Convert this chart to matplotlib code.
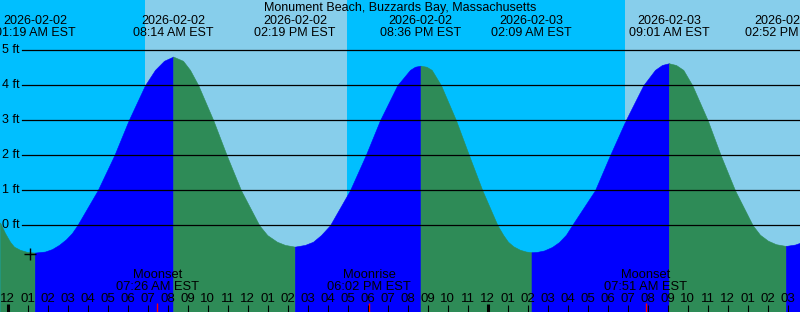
import numpy as np
import matplotlib.pyplot as plt

plt.rcParams['font.family'] = ['Liberation Sans', 'DejaVu Sans']

# hours after midnight 2026-02-02 EST, water level in feet
tide_hours = [-0.425, -0.175, 0.075, 0.275, 0.575, 0.925, 1.317,
              1.825, 2.175, 2.525, 2.875, 3.175, 3.44, 4.46, 5.29, 6.01, 6.825, 7.325, 7.775, 8.233,
              8.725, 9.075, 9.49, 10.24, 10.91, 11.625, 12.54, 12.94, 13.425, 13.825, 14.317,
              14.825, 15.225, 15.625, 16.075, 17.075, 17.86, 18.575, 19.44, 20.075, 20.325, 20.6,
              20.9, 21.16, 21.625, 22.375, 23.025, 23.69, 24.45, 24.74, 24.975, 25.24, 25.575, 25.875, 26.15,
              26.425, 26.775, 27.175, 27.525, 27.875, 28.175, 29.325, 30.075, 30.86, 31.74, 32.325, 32.675, 33.017,
              33.375, 33.74, 34.19, 34.96, 35.61, 36.325, 37.21, 37.575, 37.975, 38.375, 38.867,
              39.325, 39.575]
tide_feet = [0.08, -0.22, -0.47, -0.61, -0.70, -0.76, -0.78,
             -0.75, -0.68, -0.56, -0.40, -0.22, 0.0, 1.0, 2.0, 3.0, 4.0, 4.44, 4.7, 4.82,
             4.7, 4.44, 4.0, 3.0, 2.0, 1.0, 0.0, -0.28, -0.47, -0.56, -0.61,
             -0.56, -0.47, -0.28, 0.0, 1.0, 2.0, 3.0, 4.0, 4.44, 4.53, 4.56,
             4.53, 4.44, 4.0, 3.0, 2.0, 1.0, 0.0, -0.28, -0.47, -0.60, -0.70, -0.75, -0.77,
             -0.76, -0.72, -0.62, -0.48, -0.27, 0.0, 1.0, 2.0, 3.0, 4.0, 4.44, 4.58, 4.63,
             4.58, 4.44, 4.0, 3.0, 2.0, 1.0, 0.0, -0.27, -0.44, -0.54, -0.59,
             -0.55, -0.50]

# high / low tide events
hilo_hours = [1.317, 8.233, 14.317, 20.6, 26.15, 33.017, 38.867]
hilo_dates = ['2026-02-02', '2026-02-02', '2026-02-02', '2026-02-02',
              '2026-02-03', '2026-02-03', '2026-02-03']
hilo_times = ['01:19 AM EST', '08:14 AM EST', '02:19 PM EST', '08:36 PM EST',
              '02:09 AM EST', '09:01 AM EST', '02:52 PM EST']

# moon events
moon_hours = [7.433, 18.033, 31.85]
moon_names = ['Moonset', 'Moonrise', 'Moonset']
moon_times = ['07:26 AM EST', '06:02 PM EST', '07:51 AM EST']

# daylight
sunrise_hours = [6.825, 30.825]
sunset_hours = [16.91, 40.9]

mark_hour = 1.075
mark_feet = -0.82

level_lines = [0, 1, 2, 3, 4, 5]
hour_ticks = list(range(0, 40))

title = 'Monument Beach, Buzzards Bay, Massachusetts'

night_color = '#00BFFF'
day_color = '#87CEEB'
rise_color = '#0000FF'
fall_color = '#2E8B57'

W, H = 800, 312
fig = plt.figure(figsize=(W / 100, H / 100), dpi=100, facecolor=night_color)
ax = fig.add_axes([0, 0, 1, 1])
ax.set_xlim(-0.425, 39.575)
ax.set_ylim(-2.477, 6.437)
ax.axis('off')


def yfrac(p):
    # pixel row from top -> axes fraction
    return 1 - p / H


xt = ax.get_xaxis_transform()
yt = ax.get_yaxis_transform()

for a, b in zip(sunrise_hours, sunset_hours):
    ax.axvspan(a, b, color=day_color, lw=0, zorder=0)

# tide fill, blue while rising, green while falling
t = np.array(tide_hours)
f = np.array(tide_feet)
rising = np.diff(f) > 0
start = 0
for i in range(1, len(rising) + 1):
    if i == len(rising) or rising[i] != rising[start]:
        seg = slice(start, i + 1)
        c = rise_color if rising[start] else fall_color
        ax.fill_between(t[seg], f[seg], -3, color=c, lw=0.4, edgecolor=c, zorder=1)
        start = i

# level lines and labels
for lv in level_lines:
    ax.axhline(lv, xmin=22 / W, xmax=1, color='black', lw=0.9, zorder=3)
    ax.text(2 / W, lv, f'{lv} ft', transform=yt, ha='left', va='center',
            fontsize=9, zorder=4)

ax.plot([mark_hour], [mark_feet], marker='+', color='black', ms=9, mew=1, zorder=4)

# title and tide events
ax.text(0.5, yfrac(11.5), title, transform=ax.transAxes, ha='center', va='baseline', fontsize=9)
for h, d, tm in zip(hilo_hours, hilo_dates, hilo_times):
    ax.text(h, yfrac(24), d, transform=xt, ha='center', va='baseline', fontsize=9)
    ax.text(h, yfrac(36), tm, transform=xt, ha='center', va='baseline', fontsize=9)

# moon events
for h, n, tm in zip(moon_hours, moon_names, moon_times):
    ax.text(h, yfrac(278), n, transform=xt, ha='center', va='baseline', fontsize=9.3, zorder=4)
    ax.text(h, yfrac(289.5), tm, transform=xt, ha='center', va='baseline', fontsize=9.3, zorder=4)
    ax.vlines(h, 0, yfrac(303), transform=xt, color='red', lw=1.0, zorder=4)

# hour ticks
for h in hour_ticks:
    lab = '%02d' % (12 if h % 12 == 0 else h % 12)
    ax.text(h - 0.05, yfrac(302.5), lab, transform=xt, ha='center', va='baseline', fontsize=9.5, zorder=4)
    if h % 24 == 0:
        ax.vlines(h - 0.05, 0, yfrac(304), transform=xt, color='black', lw=2.2, zorder=4)
    else:
        ax.vlines(h - 0.05, 0, yfrac(305), transform=xt, color='black', lw=0.8, zorder=4)

fig.savefig('out.png', dpi=100, facecolor=night_color)
